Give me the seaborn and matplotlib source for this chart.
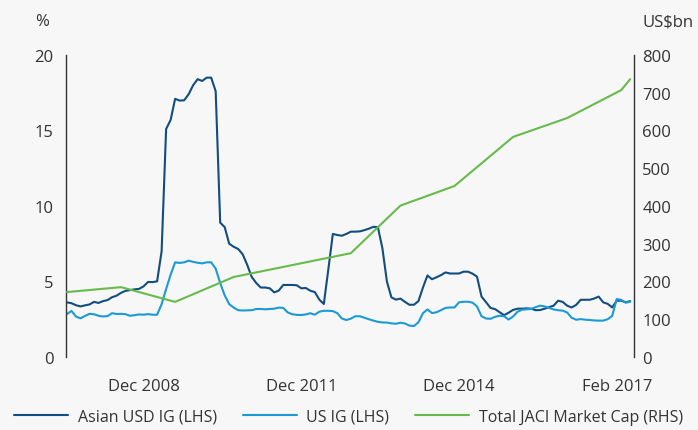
import numpy as np
import pandas as pd
import matplotlib
matplotlib.use("Agg")
import matplotlib.pyplot as plt
import seaborn as sns

# yields in %, one value per period
asian_ig = [3.62, 3.56, 3.43, 3.35, 3.42, 3.48, 3.65, 3.58, 3.70, 3.77,
            3.96, 4.06, 4.25, 4.38, 4.43, 4.48, 4.51, 4.68, 4.97, 4.96,
            5.01, 7.0, 15.1, 15.7, 17.1, 16.98, 17.0, 17.4, 18.0, 18.4,
            18.28, 18.5, 18.5, 17.6, 8.9, 8.6, 7.5, 7.3, 7.15, 6.8,
            6.1, 5.3, 4.9, 4.6, 4.6, 4.55, 4.28, 4.4, 4.77, 4.77,
            4.77, 4.75, 4.55, 4.57, 4.39, 4.3, 3.8, 3.51, 5.8, 8.15,
            8.08, 8.03, 8.15, 8.3, 8.3, 8.32, 8.4, 8.5, 8.62, 8.6,
            7.2, 5.0, 3.95, 3.8, 3.87, 3.65, 3.46, 3.46, 3.7, 4.6,
            5.4, 5.15, 5.28, 5.42, 5.6, 5.53, 5.53, 5.53, 5.65, 5.65,
            5.52, 5.32, 4.0, 3.63, 3.25, 3.17, 2.97, 2.77, 2.93, 3.12,
            3.2, 3.2, 3.22, 3.2, 3.1, 3.11, 3.2, 3.3, 3.4, 3.73,
            3.65, 3.4, 3.28, 3.45, 3.79, 3.79, 3.79, 3.87, 4.0, 3.62,
            3.52, 3.28, 3.73, 3.73, 3.62, 3.70]

us_ig = [2.85, 3.05, 2.68, 2.56, 2.72, 2.86, 2.83, 2.73, 2.68, 2.71,
         2.9, 2.85, 2.86, 2.83, 2.73, 2.77, 2.82, 2.8, 2.84, 2.8,
         2.8, 3.5, 4.5, 5.45, 6.27, 6.23, 6.27, 6.38, 6.3, 6.24,
         6.2, 6.27, 6.27, 5.85, 4.9, 4.08, 3.5, 3.27, 3.1, 3.08,
         3.09, 3.1, 3.18, 3.18, 3.16, 3.18, 3.2, 3.27, 3.25, 2.95,
         2.83, 2.79, 2.78, 2.82, 2.9, 2.8, 3.0, 3.06, 3.06, 3.04,
         2.9, 2.55, 2.45, 2.54, 2.7, 2.7, 2.6, 2.5, 2.41, 2.33,
         2.29, 2.28, 2.23, 2.2, 2.27, 2.22, 2.08, 2.05, 2.3, 2.9,
         3.15, 2.91, 2.96, 3.1, 3.25, 3.28, 3.28, 3.62, 3.66, 3.66,
         3.6, 3.35, 2.7, 2.55, 2.53, 2.66, 2.73, 2.7, 2.48, 2.68,
         3.0, 3.13, 3.16, 3.18, 3.3, 3.4, 3.35, 3.25, 3.15, 3.1,
         3.07, 2.95, 2.6, 2.47, 2.51, 2.47, 2.45, 2.42, 2.41, 2.41,
         2.5, 2.72, 3.84, 3.78, 3.6, 3.66]

# JACI market cap in US$bn, only at the periods where it is reported
jaci_idx = [0, 12, 24, 37, 63, 74, 86, 99, 111, 123, 125]
jaci_cap = [172, 185, 146, 212, 275, 401, 453, 583, 633, 707, 736]

tick_idx = [17, 52, 87, 122]
tick_labels = ["Dec 2008", "Dec 2011", "Dec 2014", "Feb 2017"]

df = pd.DataFrame({"t": np.arange(len(asian_ig)), "asian": asian_ig, "us": us_ig})
df_cap = pd.DataFrame({"t": jaci_idx, "cap": jaci_cap})

bg = "#f7f7f7"
txt = "#333333"
sns.set_theme(style="white")
plt.rcParams["font.family"] = ["Open Sans", "DejaVu Sans"]

fig = plt.figure(figsize=(6.98, 4.31), dpi=100, facecolor=bg)
ax = fig.add_axes([66 / 698, 1 - 358 / 431, (634 - 66) / 698, (358 - 56) / 431])
ax.set_facecolor(bg)
ax2 = ax.twinx()

sns.lineplot(data=df, x="t", y="asian", ax=ax, color="#124d80", lw=1.5,
             label="Asian USD IG (LHS)", legend=False)
sns.lineplot(data=df, x="t", y="us", ax=ax, color="#1b9ad6", lw=1.5,
             label="US IG (LHS)", legend=False)
sns.lineplot(data=df_cap, x="t", y="cap", ax=ax2, color="#66bb4c", lw=1.5,
             label="Total JACI Market Cap (RHS)", legend=False)

ax.set_xlim(-0.22, 125.84)
ax.set_ylim(0, 20)
ax2.set_ylim(0, 800)
ax.set_yticks([0, 5, 10, 15, 20])
ax2.set_yticks(range(0, 801, 100))
ax.set_xticks(tick_idx)
ax.set_xticklabels(tick_labels)
ax.set_xlabel("")
ax.set_ylabel("")
ax2.set_ylabel("")

for a in (ax, ax2):
    for s in a.spines.values():
        s.set_visible(False)
    a.tick_params(length=0, labelsize=12, colors=txt)
ax.spines["left"].set_visible(True)
ax.spines["left"].set_color(txt)
ax.spines["left"].set_linewidth(1)
ax2.spines["right"].set_visible(True)
ax2.spines["right"].set_color(txt)
ax2.spines["right"].set_linewidth(1)
ax.tick_params(axis="y", pad=9)
ax2.tick_params(axis="y", pad=6)
ax.tick_params(axis="x", pad=15)

fig.text(42 / 698, 1 - 22 / 431, "%", ha="center", va="center", fontsize=12, color=txt)
fig.text(668 / 698, 1 - 22 / 431, "US$bn", ha="center", va="center", fontsize=12, color=txt)

h1, l1 = ax.get_legend_handles_labels()
h2, l2 = ax2.get_legend_handles_labels()
fig.legend(h1 + h2, l1 + l2, loc="center left", bbox_to_anchor=(6 / 698, 1 - 418 / 431),
           ncol=3, frameon=False, fontsize=11.5, handlelength=3.4, handletextpad=0.6,
           columnspacing=1.6, borderpad=0, labelcolor=txt)

fig.savefig("out.png", dpi=100, facecolor=bg)
